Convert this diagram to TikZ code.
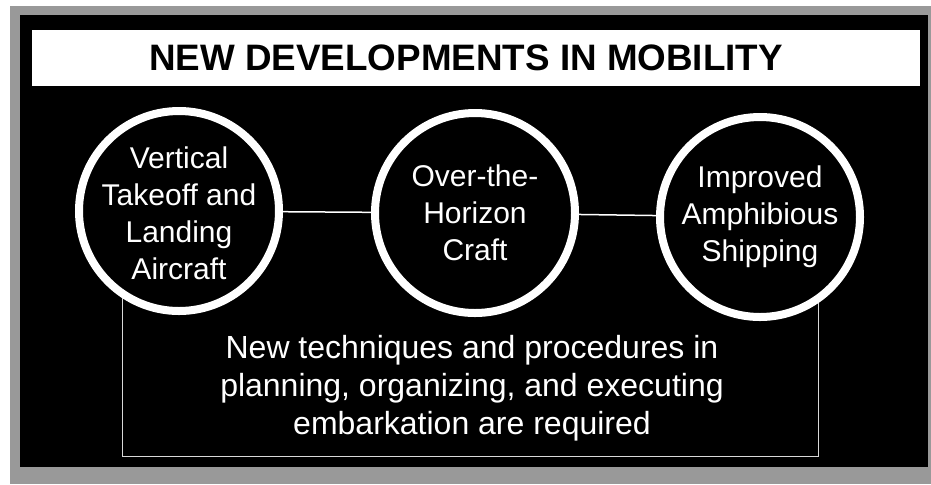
\documentclass[tikz,border=0pt]{standalone}
\usepackage{fontspec}
\setmainfont{Liberation Sans}

\begin{document}
\begin{tikzpicture}[
  x=0.5pt,y=-0.5pt,
  ring/.style={circle, draw=white, line width=4pt, fill=black, minimum size=100pt, inner sep=0pt},
  ringtext/.style={text=white, align=center, inner sep=0pt, font=\fontsize{15}{18.5}\selectfont},
  link/.style={draw=white, line width=0.75pt},
  frame/.style={draw=black!15, line width=0.5pt}]
\useasboundingbox (0,0) rectangle (931,484);
\fill[white] (0,0) rectangle (931,484);
% stippled border and black panel
\fill[black!40] (10,6) rectangle (931,484);
\fill[black] (20,15) rectangle (928,467);
\fill[white] (32,30) rectangle (920,86);
\node[font=\fontsize{18.4}{20}\selectfont\bfseries] (title) at (466,58) {NEW DEVELOPMENTS IN MOBILITY};
% the three circles
\node[ring] (vtol) at (179,211) {};
\node[ring] (oth) at (475,213) {};
\node[ring] (ship) at (760,217) {};
\node[ringtext] (vtoltxt) at ([yshift=-1pt]vtol) {Vertical\\Takeoff and\\Landing\\Aircraft};
\node[ringtext] (othtxt) at (oth) {Over-the-\\Horizon\\Craft};
\node[ringtext] (shiptxt) at (ship) {Improved\\Amphibious\\Shipping};
\draw[link] (vtol) -- (oth);
\draw[link] (oth) -- (ship);
% box under the circles
\coordinate (base) at (470,456);
\draw[frame] (vtol.237) |- (base) -| (ship.-56);
\node[text=white, align=center, font=\fontsize{16}{19}\selectfont] (note) at (472,388)
 {New techniques and procedures in\\planning, organizing, and executing\\embarkation are required};
\end{tikzpicture}
\end{document}
